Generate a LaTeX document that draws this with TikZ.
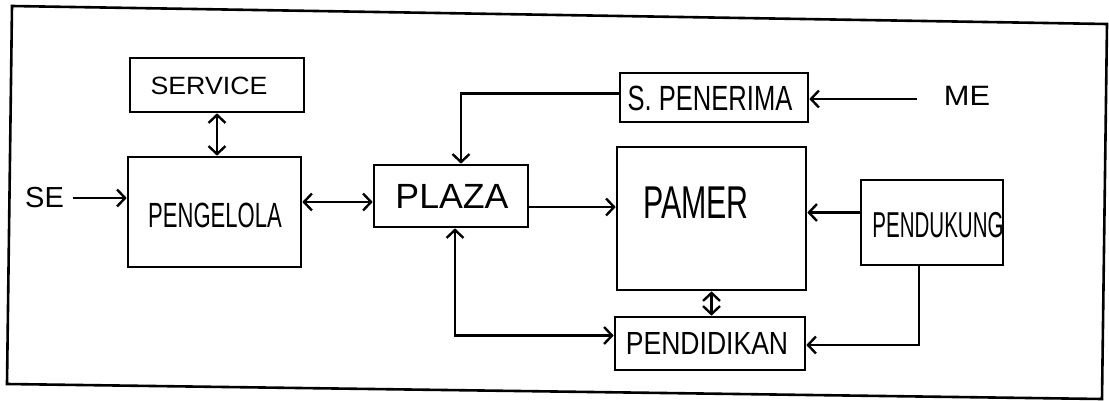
\documentclass[tikz,border=0pt]{standalone}
\usepackage{fontspec}
\setmainfont{Liberation Sans}
\usetikzlibrary{arrows.meta,calc}
\newcommand\handtxt[3]{\fontsize{#1}{#1}\selectfont\scalebox{#2}[1]{#3}}
\tikzset{
  box/.style={draw, line width=2.6pt, inner sep=0pt, anchor=center},
  lbl/.style={inner sep=0pt, anchor=center},
  conn/.style={line width=2.4pt},
  >={Straight Barb[length=8pt,width=17pt,line width=2.4pt]}
}
\begin{document}
\begin{tikzpicture}[x=1pt,y=-1pt]
\useasboundingbox (0,0) rectangle (1109,400);
% frame
\draw[line width=2.6pt] (12,6) -- (1107,24) -- (1102,399) -- (7,384) -- cycle;
% boxes
\node[box, minimum width=174pt, minimum height=54pt] (service) at (217,85) {};
\node[box, minimum width=173pt, minimum height=110pt] (pengelola) at (214.5,212) {};
\node[box, minimum width=154pt, minimum height=62pt] (plaza) at (451,196) {};
\node[box, minimum width=188pt, minimum height=49pt] (pen) at (714,97.5) {};
\node[box, minimum width=189pt, minimum height=143pt] (pamer) at (711.5,218.5) {};
\node[box, minimum width=142pt, minimum height=85pt] (pendukung) at (932,222.5) {};
\node[box, minimum width=190pt, minimum height=53pt] (pendidikan) at (710,343.5) {};
% labels
\node[lbl] (servicet) at (209,86) {\handtxt{25}{1.07}{SERVICE}};
\node[lbl] (pengelolat) at (215,215) {\handtxt{35}{0.63}{PENGELOLA}};
\node[lbl] (se) at (44.5,198) {\handtxt{29}{1.0}{SE}};
\node[lbl] (plazat) at (452,196) {\handtxt{35}{1.02}{PLAZA}};
\node[lbl] (pent) at (710,98) {\handtxt{35}{0.73}{S. PENERIMA}};
\node[lbl] (me) at (967,96) {\handtxt{28}{1.1}{ME}};
\node[lbl] (pamert) at (696,203) {\handtxt{46}{0.66}{PAMER}};
\node[lbl] (pendukungt) at (938,225) {\handtxt{36}{0.57}{PENDUKUNG}};
\node[lbl] (pendidikant) at (707,343) {\handtxt{32}{0.83}{PENDIDIKAN}};
% connectors
\draw[conn,->,shorten <=9pt] (se.east) -- (se.east -| pengelola.west);
\draw[conn,<->] (service.south) -- (service.south |- pengelola.north);
\draw[conn,<->] ([yshift=10pt]pengelola.east) -- ([yshift=10pt]pengelola.east -| plaza.west);
\draw[conn,->] ([yshift=4pt]pen.west) -| ([xshift=10pt]plaza.north);
\draw[conn,<->] ([xshift=4pt]plaza.south) |- ([yshift=8pt]pendidikan.west);
\draw[conn,->] ([yshift=-11pt]plaza.east) -- ([yshift=-11pt]plaza.east -| pamer.west);
\draw[conn,->,shorten <=27pt] ([yshift=-3pt]me.west) -- ([yshift=-3pt]me.west -| pen.east);
\draw[conn,->] ([yshift=10pt]pendukung.west) -- ([yshift=10pt]pendukung.west -| pamer.east);
\draw[conn,<->] (pamer.south) -- (pamer.south |- pendidikan.north);
\draw[conn,->] ([xshift=-13pt]pendukung.south) |- ([yshift=-1.5pt]pendidikan.east);
\end{tikzpicture}
\end{document}
